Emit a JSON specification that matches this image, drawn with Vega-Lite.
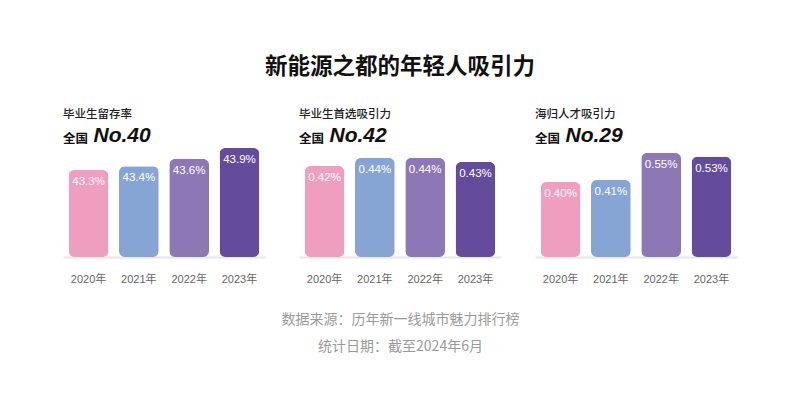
{
  "$schema": "https://vega.github.io/schema/vega-lite/v6.json",
  "background": "white",
  "padding": {"left": 63, "top": 56, "right": 10, "bottom": 10},
  "title": {"text": "新能源之都的年轻人吸引力", "fontSize": 22.5, "fontWeight": "bold", "font": "Noto Sans CJK SC", "color": "#111111", "anchor": "middle", "frame": "bounds", "offset": 30},
  "datasets": {
    "d": [
      {"metric": "毕业生留存率", "year": "2020年", "value": 0.433},
      {"metric": "毕业生留存率", "year": "2021年", "value": 0.434},
      {"metric": "毕业生留存率", "year": "2022年", "value": 0.436},
      {"metric": "毕业生留存率", "year": "2023年", "value": 0.439},
      {"metric": "毕业生首选吸引力", "year": "2020年", "value": 0.0042},
      {"metric": "毕业生首选吸引力", "year": "2021年", "value": 0.0044},
      {"metric": "毕业生首选吸引力", "year": "2022年", "value": 0.0044},
      {"metric": "毕业生首选吸引力", "year": "2023年", "value": 0.0043},
      {"metric": "海归人才吸引力", "year": "2020年", "value": 0.0040},
      {"metric": "海归人才吸引力", "year": "2021年", "value": 0.0041},
      {"metric": "海归人才吸引力", "year": "2022年", "value": 0.0055},
      {"metric": "海归人才吸引力", "year": "2023年", "value": 0.0053}
    ]
  },
  "data": {"name": "d"},
  "spacing": 34,
  "bounds": "flush",
  "hconcat": [
    {
      "width": 202, "height": 112,
      "title": {"text": "毕业生留存率", "subtitle": "全国"},
      "transform": [{"filter": "datum.metric === '毕业生留存率'"}],
      "encoding": {
        "x": {"field": "year", "type": "nominal", "sort": null, "scale": {"paddingInner": 0.21, "paddingOuter": 0.113}, "axis": {"title": null}},
        "y": {"field": "value", "type": "quantitative", "scale": {"domain": [0.4093, 0.4398], "zero": false, "nice": false, "clamp": true}, "axis": {"title": "No.40"}}
      },
      "layer": [
        {"mark": {"type": "bar", "cornerRadius": 6}, "encoding": {"color": {"field": "year", "type": "nominal", "scale": {"domain": ["2020年", "2021年", "2022年", "2023年"], "range": ["#F09EC0", "#86A5D5", "#8D78B5", "#654B9B"]}, "legend": null}}},
        {"mark": {"type": "text", "baseline": "top", "dy": 6, "color": "white", "fontSize": 11.5, "font": "Liberation Sans"}, "encoding": {"text": {"field": "value", "type": "quantitative", "format": ".1%"}}}
      ]
    },
    {
      "width": 202, "height": 112,
      "title": {"text": "毕业生首选吸引力", "subtitle": "全国"},
      "transform": [{"filter": "datum.metric === '毕业生首选吸引力'"}],
      "encoding": {
        "x": {"field": "year", "type": "nominal", "sort": null, "scale": {"paddingInner": 0.21, "paddingOuter": 0.113}, "axis": {"title": ["数据来源：历年新一线城市魅力排行榜", "统计日期：截至2024年6月"], "titleFontSize": 14, "titleColor": "#9a9a9a", "titleFontWeight": "normal", "titleFont": "Noto Sans CJK SC", "titleLineHeight": 27, "titlePadding": 28}},
        "y": {"field": "value", "type": "quantitative", "scale": {"domain": [0.001925, 0.004725], "zero": false, "nice": false, "clamp": true}, "axis": {"title": "No.42"}}
      },
      "layer": [
        {"mark": {"type": "bar", "cornerRadius": 6}, "encoding": {"color": {"field": "year", "type": "nominal", "scale": {"domain": ["2020年", "2021年", "2022年", "2023年"], "range": ["#F09EC0", "#86A5D5", "#8D78B5", "#654B9B"]}, "legend": null}}},
        {"mark": {"type": "text", "baseline": "top", "dy": 6, "color": "white", "fontSize": 11.5, "font": "Liberation Sans"}, "encoding": {"text": {"field": "value", "type": "quantitative", "format": ".2%"}}}
      ]
    },
    {
      "width": 202, "height": 112,
      "title": {"text": "海归人才吸引力", "subtitle": "全国"},
      "transform": [{"filter": "datum.metric === '海归人才吸引力'"}],
      "encoding": {
        "x": {"field": "year", "type": "nominal", "sort": null, "scale": {"paddingInner": 0.21, "paddingOuter": 0.113}, "axis": {"title": null}},
        "y": {"field": "value", "type": "quantitative", "scale": {"domain": [0.00011, 0.00591], "zero": false, "nice": false, "clamp": true}, "axis": {"title": "No.29"}}
      },
      "layer": [
        {"mark": {"type": "bar", "cornerRadius": 6}, "encoding": {"color": {"field": "year", "type": "nominal", "scale": {"domain": ["2020年", "2021年", "2022年", "2023年"], "range": ["#F09EC0", "#86A5D5", "#8D78B5", "#654B9B"]}, "legend": null}}},
        {"mark": {"type": "text", "baseline": "top", "dy": 6, "color": "white", "fontSize": 11.5, "font": "Liberation Sans"}, "encoding": {"text": {"field": "value", "type": "quantitative", "format": ".2%"}}}
      ]
    }
  ],
  "resolve": {"scale": {"y": "independent", "x": "independent"}},
  "config": {
    "view": {"stroke": null},
    "font": "Noto Sans CJK SC",
    "title": {"frame": "group", "anchor": "start", "orient": "top", "fontSize": 11.5, "fontWeight": 500, "color": "#222222", "font": "Noto Sans CJK SC", "subtitleFontSize": 12.5, "subtitleFontWeight": "bold", "subtitleColor": "#111111", "subtitleFont": "Noto Sans CJK SC", "subtitlePadding": 13, "offset": -21.5},
    "axisX": {"labelAngle": 0, "labelFontSize": 11, "labelColor": "#666666", "labelFont": "Liberation Sans, Noto Sans CJK SC", "labelPadding": 16, "ticks": false, "domainColor": "#e6e6e6", "domainWidth": 2, "grid": false},
    "axisY": {"labels": false, "ticks": false, "domain": false, "grid": false, "titleAngle": 0, "titleX": 30, "titleY": -4, "titleAlign": "left", "titleBaseline": "alphabetic", "titleFontSize": 21, "titleFontStyle": "italic", "titleFontWeight": "bold", "titleFont": "Liberation Sans", "titleColor": "#111111"}
  }
}
